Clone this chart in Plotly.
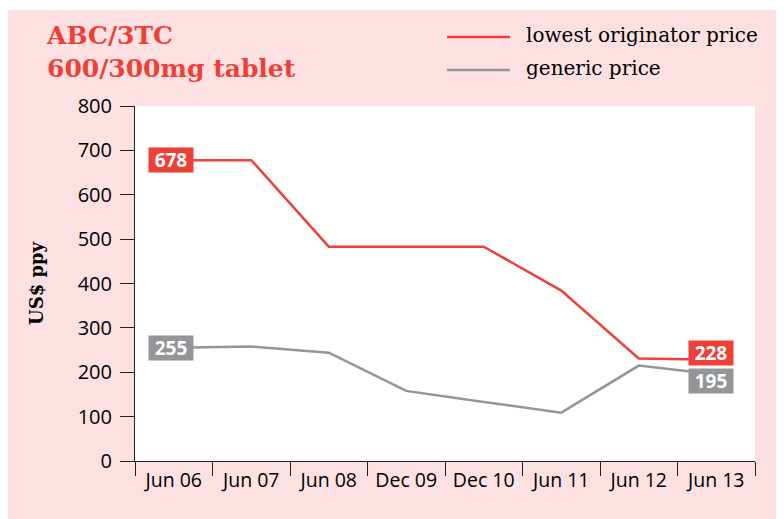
import plotly.graph_objects as go

# periods on the x axis
periods = ["Jun 06", "Jun 07", "Jun 08", "Dec 09", "Dec 10", "Jun 11", "Jun 12", "Jun 13"]
# US$ per patient per year
originator = [678, 678, 483, 483, 483, 384, 231, 228]
generic = [255, 258, 244, 158, 133, 109, 215, 195]
series_names = ["lowest originator price", "generic price"]

RED = "#EE4036"
GREY = "#939598"
PINK = "#FDE0E1"

W, H = 784, 519
OFF = 8  # page body margin
ml, mr, mt, mb = 127, 37, 98, 66
pw, ph = W - ml - mr, H - mt - mb


# page pixel -> paper coords
def fx(p):
    return (p - OFF - ml) / pw


def fy(p):
    return (H - mb - (p - OFF)) / ph


fig = go.Figure()
fig.add_trace(go.Scatter(x=periods, y=originator, mode="lines", name=series_names[0],
                         line=dict(color=RED, width=2.5), showlegend=False))
fig.add_trace(go.Scatter(x=periods, y=generic, mode="lines", name=series_names[1],
                         line=dict(color=GREY, width=2.5), showlegend=False))

# value boxes at both ends of each line
lab_font = dict(family="Open Sans", size=19, color="white", weight="bold")
for series, col, dy in [(originator, RED, 7), (generic, GREY, -7)]:
    fig.add_annotation(x=periods[0], y=series[0], text=str(series[0]), showarrow=False,
                       bgcolor=col, font=lab_font, borderpad=0, width=44, height=24, xshift=-3)
    fig.add_annotation(x=periods[-1], y=series[-1], text=str(series[-1]), showarrow=False,
                       bgcolor=col, font=lab_font, borderpad=0, width=44, height=24,
                       xshift=-5, yshift=dy)

# legend drawn by hand (long swatches like the original)
for name, col, ly in [(series_names[0], RED, 37), (series_names[1], GREY, 70)]:
    fig.add_shape(type="line", xref="paper", yref="paper", x0=fx(447), x1=fx(510),
                  y0=fy(ly), y1=fy(ly), line=dict(color=col, width=2.5))
    fig.add_annotation(xref="paper", yref="paper", x=fx(524), y=fy(ly - 2), xanchor="left",
                       yanchor="middle", text=name, showarrow=False,
                       font=dict(family="DejaVu Serif", size=20, color="black"))

# title
fig.add_annotation(xref="paper", yref="paper", x=fx(44), y=fy(52), xanchor="left",
                   yanchor="middle", align="left", text="ABC/3TC<br>600/300mg tablet",
                   showarrow=False,
                   font=dict(family="DejaVu Serif", size=25, color=RED, weight="bold"))

# thin white strip at the very top
fig.add_shape(type="rect", xref="paper", yref="paper", x0=fx(0), x1=fx(W + 20),
              y0=fy(10), y1=fy(OFF), fillcolor="white", line=dict(width=0))

fig.update_layout(
    width=W, height=H,
    margin=dict(l=ml, r=mr, t=mt, b=mb),
    paper_bgcolor=PINK, plot_bgcolor="white",
    xaxis=dict(type="category", tickson="boundaries", ticks="outside", ticklen=14,
               tickcolor="#231F20", showline=True, linecolor="#231F20", linewidth=1,
               showgrid=False, range=[-0.5, 7.5], ticklabelstandoff=2,
               tickfont=dict(family="Open Sans", size=19.5, color="black")),
    yaxis=dict(range=[0, 800], dtick=100, ticks="outside", ticklen=14,
               tickcolor="#231F20", showline=True, linecolor="#231F20", linewidth=1,
               showgrid=False, zeroline=False, ticklabelstandoff=4,
               tickfont=dict(family="Open Sans", size=20, color="black"),
               title=dict(text="US$ ppy", standoff=29,
                          font=dict(family="DejaVu Serif", size=18, color="black", weight="bold"))),
)

fig.write_html("out.html")
